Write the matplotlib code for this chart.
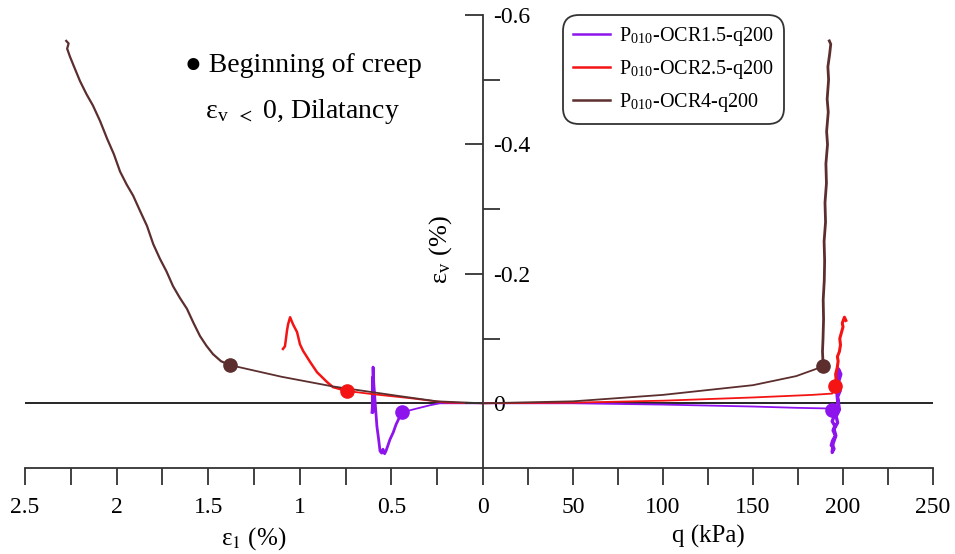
import matplotlib
matplotlib.use("Agg")
import matplotlib.pyplot as plt
from matplotlib.lines import Line2D

plt.rcParams['font.family'] = ['Liberation Serif', 'DejaVu Sans']
plt.rcParams['mathtext.fontset'] = 'stix'

# ---------------- data ----------------
series_labels = [r'P$_{\mathregular{010}}$-OCR1.5-q200',
                 r'P$_{\mathregular{010}}$-OCR2.5-q200',
                 r'P$_{\mathregular{010}}$-OCR4-q200']
colors = ['#8E14EE', '#F41414', '#5C2E2E']

# OCR1.5 (purple) -- left panel: eps1 (%) vs epsv (%)
p_load_e1 = [0.0, 0.15, 0.235, 0.289, 0.36, 0.442]
p_load_ev = [0.0, 0.0, 0.0, 0.003, 0.008, 0.014]
p_creep_e1 = [0.442, 0.46, 0.475, 0.49, 0.508, 0.52, 0.530, 0.537, 0.546, 0.553, 0.562, 0.570, 0.579,
              0.590, 0.596, 0.600, 0.602, 0.601, 0.603, 0.604, 0.606]
p_creep_ev = [0.014, 0.024, 0.033, 0.045, 0.056, 0.066, 0.074, 0.078, 0.071, 0.077, 0.074, 0.055, 0.036,
              -0.006, -0.030, -0.056, -0.020, 0.014, -0.040, 0.005, 0.014]
# OCR1.5 -- right panel: q (kPa) vs epsv (%)
p_load_q = [0.0, 50, 100, 150, 174, 192, 194]
p_load_qv = [0.0, 0.0, 0.002, 0.005, 0.007, 0.008, 0.010]
p_creep_q = [194, 195, 194, 195.5, 194.5, 195.8, 194.2, 193.5, 195, 194, 194.5, 196, 195, 197, 196.2,
             198, 197, 198.5, 197.2, 198.8, 197.5, 196.5, 197.5, 196.8]
p_creep_qv = [0.010, 0.020, 0.028, 0.035, 0.042, 0.050, 0.058, 0.065, 0.070, 0.076, 0.062, 0.050, 0.040,
              0.030, 0.020, 0.010, -0.010, -0.020, -0.030, -0.045, -0.053, -0.020, 0.010, 0.012]

# OCR2.5 (red)
r_load_e1 = [0.0, 0.2, 0.4, 0.6, 0.742]
r_load_ev = [0.0, -0.001, -0.008, -0.014, -0.019]
r_creep_e1 = [0.742, 0.819, 0.852, 0.906, 0.944, 0.982, 0.999, 1.015, 1.037, 1.053, 1.064, 1.070,
              1.081, 1.092]
r_creep_ev = [-0.019, -0.025, -0.033, -0.048, -0.064, -0.081, -0.091, -0.110, -0.122, -0.133, -0.122,
              -0.112, -0.088, -0.084]
r_load_q = [0.0, 50, 100, 150, 183, 194, 195.5]
r_load_qv = [0.0, -0.001, -0.004, -0.009, -0.013, -0.015, -0.026]
r_creep_q = [195.5, 196.2, 195.9, 196.8, 197.3, 196.9, 198.0, 198.6, 198.2, 199.2, 200.0, 199.6, 200.8,
             201.6]
r_creep_qv = [-0.026, -0.036, -0.045, -0.055, -0.065, -0.072, -0.080, -0.090, -0.100, -0.110, -0.118,
              -0.124, -0.133, -0.128]

# OCR4 (brown)
b_load_e1 = [0.0, 0.25, 0.453, 0.819, 1.1, 1.381]
b_load_ev = [0.0, -0.003, -0.011, -0.026, -0.041, -0.059]
b_creep_e1 = [1.381, 1.430, 1.474, 1.510, 1.545, 1.580, 1.616, 1.655, 1.692, 1.728, 1.763, 1.80, 1.834,
              1.870, 1.910, 1.945, 1.981, 2.015, 2.052, 2.090, 2.129, 2.165, 2.20, 2.235, 2.255, 2.27,
              2.262, 2.275]
b_creep_ev = [-0.059, -0.065, -0.076, -0.089, -0.104, -0.124, -0.146, -0.163, -0.181, -0.204, -0.223,
              -0.246, -0.274, -0.296, -0.321, -0.338, -0.358, -0.385, -0.409, -0.436, -0.460, -0.478,
              -0.498, -0.522, -0.536, -0.548, -0.556, -0.560]
b_load_q = [0.0, 50, 100, 150, 174, 189]
b_load_qv = [0.0, -0.003, -0.013, -0.028, -0.042, -0.057]
b_creep_q = [189.0, 188.6, 188.9, 189.2, 189.0, 189.6, 189.8, 189.5, 190.3, 190.0, 190.8, 190.5, 191.4,
             190.9, 191.8, 191.2, 192.0, 191.6, 192.6, 193.2, 192.4]
b_creep_qv = [-0.057, -0.080, -0.100, -0.130, -0.160, -0.190, -0.220, -0.250, -0.280, -0.310, -0.340,
              -0.370, -0.400, -0.420, -0.450, -0.470, -0.500, -0.520, -0.540, -0.555, -0.560]

e1_ticks = [2.5, 2, 1.5, 1, 0.5]
e1_ticklabels = ['2.5', '2', '1.5', '1', '0.5']
q_ticks = [0, 50, 100, 150, 200, 250]
q_ticklabels = ['0', '50', '100', '150', '200', '250']
ev_ticks = [-0.6, -0.4, -0.2, 0]
ev_ticklabels = ['-0.6', '-0.4', '-0.2', '0']

# ---------------- figure ----------------
W, H = 955, 554
fig = plt.figure(figsize=(W / 100, H / 100), dpi=100)
y0, y1 = 15, 468
axL = fig.add_axes([25 / W, 1 - y1 / H, (483 - 25) / W, (y1 - y0) / H])
axR = fig.add_axes([483 / W, 1 - y1 / H, (933 - 483) / W, (y1 - y0) / H])

lw = 1.3
ms = 9.5
groups = [
    (p_load_e1, p_load_ev, p_creep_e1, p_creep_ev, p_load_q, p_load_qv, p_creep_q, p_creep_qv),
    (r_load_e1, r_load_ev, r_creep_e1, r_creep_ev, r_load_q, r_load_qv, r_creep_q, r_creep_qv),
    (b_load_e1, b_load_ev, b_creep_e1, b_creep_ev, b_load_q, b_load_qv, b_creep_q, b_creep_qv),
]
creep_lw = [2.0, 1.8, 1.6]
for (le, lv, ce, cv, lq, lqv, cq, cqv), c, clw in zip(groups, colors, creep_lw):
    axL.plot(le, lv, color=c, lw=lw, zorder=3)
    axL.plot(ce, cv, color=c, lw=clw, zorder=3)
    axL.plot(ce[0], cv[0], 'o', color=c, ms=ms, zorder=4)
    axR.plot(lq, lqv, color=c, lw=lw, zorder=3)
    axR.plot(cq, cqv, color=c, lw=clw + 0.4, zorder=3)
    axR.plot(cq[0], cqv[0], 'o', color=c, ms=ms, zorder=4)

for ax in (axL, axR):
    ax.set_ylim(0.1, -0.6)
    ax.axhline(0, color='black', lw=1.2, zorder=2)
    ax.patch.set_alpha(0)
    for s in ('top', 'right', 'left'):
        ax.spines[s].set_visible(False)
    ax.spines['bottom'].set_linewidth(1.3)
    ax.spines['bottom'].set_color('#333333')
    ax.tick_params(axis='x', which='both', direction='out', length=12, width=1.3,
                   color='#333333', labelsize=17, pad=9)

axL.set_xlim(2.5, 0)
axL.set_xticks(e1_ticks)
axL.set_xticklabels(e1_ticklabels)
axL.set_xticks([2.25, 1.75, 1.25, 0.75, 0.25], minor=True)
axL.set_yticks([])
axL.set_xlabel(r'ε$_1$ (%)', fontsize=18, labelpad=5)

axR.set_xlim(0, 250)
axR.set_xticks(q_ticks)
axR.set_xticklabels(q_ticklabels)
axR.set_xticks([25, 75, 125, 175, 225], minor=True)
axR.set_xlabel('q (kPa)', fontsize=18, labelpad=5)

axR.spines['left'].set_visible(True)
axR.spines['left'].set_linewidth(1.3)
axR.spines['left'].set_color('#333333')
axR.set_yticks(ev_ticks)
axR.set_yticklabels(ev_ticklabels)
axR.set_yticks([-0.5, -0.3, -0.1], minor=True)
axR.tick_params(axis='y', which='major', direction='out', length=13, width=1.3,
                color='#333333', labelsize=17, pad=-20)
axR.tick_params(axis='y', which='minor', direction='in', length=12, width=1.3,
                color='#333333')
for lbl in axR.get_yticklabels():
    lbl.set_horizontalalignment('left')

fig.text(441 / W, 1 - 250 / H, r'ε$_{\mathregular{v}}$ (%)', rotation=90, fontsize=19,
         ha='center', va='center')

fig.text(185 / W, 1 - 65 / H, '● Beginning of creep', fontsize=20, ha='left', va='center')
fig.text(205 / W, 1 - 112 / H, r'ε$_{\mathregular{v}}$ $_{<}$ 0, Dilatancy', fontsize=20,
         ha='left', va='center')

handles = [Line2D([], [], color=c, lw=1.8) for c in colors]
leg = fig.legend(handles, series_labels, loc='upper left', bbox_to_anchor=(563 / W, 1 - 15 / H),
                 fontsize=14.5, frameon=True, fancybox=True, edgecolor='black',
                 handlelength=1.85, handletextpad=0.45, labelspacing=0.5, borderpad=0.5,
                 borderaxespad=0)
leg.get_frame().set_linewidth(1.3)
leg.get_frame().set_boxstyle('round,pad=0,rounding_size=0.8')

fig.savefig('out.png', dpi=100)
